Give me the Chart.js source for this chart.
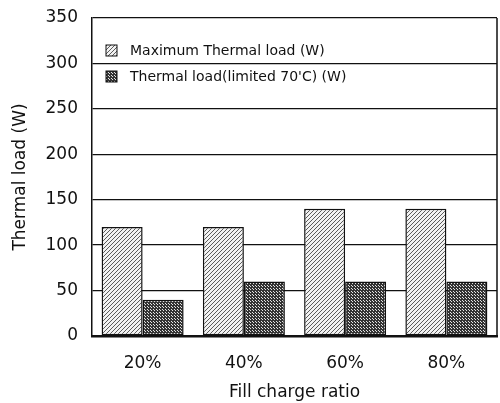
<!DOCTYPE html>
<html>
<head>
<meta charset="utf-8">
<script src="https://cdn.jsdelivr.net/npm/chart.js@4.4.1/dist/chart.umd.min.js"></script>
<style>
  html, body { margin: 0; padding: 0; background: #fff; }
  #wrap { width: 500px; height: 403px; }
</style>
</head>
<body>
<div id="wrap"><canvas id="chart"></canvas></div>
<script>
// data
const categories = ["20%", "40%", "60%", "80%"];
const maxThermalLoad = [120, 120, 140, 140];
const limitedThermalLoad = [40, 60, 60, 60];
const seriesNames = ["Maximum Thermal load (W)", "Thermal load(limited 70'C) (W)"];
const yMin = 0, yMax = 350, yStep = 50;

const FONT = "'DejaVu Sans', sans-serif";
const INK = "#111";

// hatch "/" pattern for the first series
function hatchPattern() {
    const c = document.createElement("canvas");
    c.width = 4; c.height = 4;
    const g = c.getContext("2d");
    g.fillStyle = "#f2f2f2";
    g.fillRect(0, 0, 4, 4);
    g.strokeStyle = "#333";
    g.lineWidth = 0.8;
    g.beginPath();
    g.moveTo(0, 4); g.lineTo(4, 0);
    g.moveTo(-1, 1); g.lineTo(1, -1);
    g.moveTo(3, 5); g.lineTo(5, 3);
    g.stroke();
    return g.createPattern(c, "repeat");
}

// dense cross pattern for the second series
function crossPattern() {
    const c = document.createElement("canvas");
    c.width = 3; c.height = 3;
    const g = c.getContext("2d");
    g.fillStyle = "#333";
    g.fillRect(0, 0, 3, 3);
    g.fillStyle = "#e4e4e4";
    g.fillRect(1, 1, 1, 1);
    g.fillRect(0, 0, 1, 1);
    return g.createPattern(c, "repeat");
}

const fills = [hatchPattern(), crossPattern()];

// legend sits inside the plot, top-left, and the right frame line
const framePlugin = {
    id: "frame",
    afterDraw(chart) {
        const { ctx, chartArea: a } = chart;
        ctx.save();
        ctx.strokeStyle = INK;
        ctx.lineWidth = 1.5;
        ctx.beginPath();
        ctx.moveTo(a.right, a.top);
        ctx.lineTo(a.right, a.bottom);
        ctx.stroke();

        const rows = [a.top + 33, a.top + 59];
        ctx.font = "14px " + FONT;
        ctx.textBaseline = "middle";
        seriesNames.forEach((name, i) => {
            const x = a.left + 14, y = rows[i];
            ctx.fillStyle = fills[i];
            ctx.fillRect(x, y - 6, 11, 11);
            ctx.lineWidth = 1;
            ctx.strokeRect(x, y - 6, 11, 11);
            ctx.fillStyle = INK;
            ctx.fillText(name, x + 24, y);
        });
        ctx.restore();
    }
};

new Chart(document.getElementById("chart"), {
    type: "bar",
    data: {
        labels: categories,
        datasets: [
            { label: seriesNames[0], data: maxThermalLoad },
            { label: seriesNames[1], data: limitedThermalLoad }
        ].map((d, i) => ({
            ...d,
            backgroundColor: fills[i],
            borderColor: INK,
            borderWidth: 1.5,
            borderSkipped: false,
            categoryPercentage: 0.81,
            barPercentage: 1
        }))
    },
    options: {
        responsive: true,
        maintainAspectRatio: false,
        animation: false,
        layout: { padding: { top: 18, right: 3 } },
        plugins: {
            legend: { display: false },
            tooltip: { enabled: false }
        },
        scales: {
            x: {
                afterFit(s) { s.height = 67; },
                grid: { display: false, drawTicks: false },
                border: { display: true, color: INK, width: 2.5 },
                ticks: { color: INK, font: { family: FONT, size: 17 }, padding: 17 },
                title: {
                    display: true, text: "Fill charge ratio", color: INK,
                    font: { family: FONT, size: 17 }, padding: { top: 0, bottom: 0 }
                }
            },
            y: {
                min: yMin, max: yMax,
                // tick padding would otherwise push the plot top down
                afterFit(s) { s.width = 92; s.paddingTop = 0; s.paddingBottom = 0; },
                grid: { color: INK, lineWidth: 1.3, drawTicks: false },
                border: { display: true, color: INK, width: 1.5 },
                ticks: { stepSize: yStep, color: INK, font: { family: FONT, size: 17 }, padding: 14 },
                title: {
                    display: true, text: "Thermal load (W)", color: INK,
                    font: { family: FONT, size: 17 }, padding: { top: 10, bottom: 0 }
                }
            }
        }
    },
    plugins: [framePlugin]
});
</script>
</body>
</html>
